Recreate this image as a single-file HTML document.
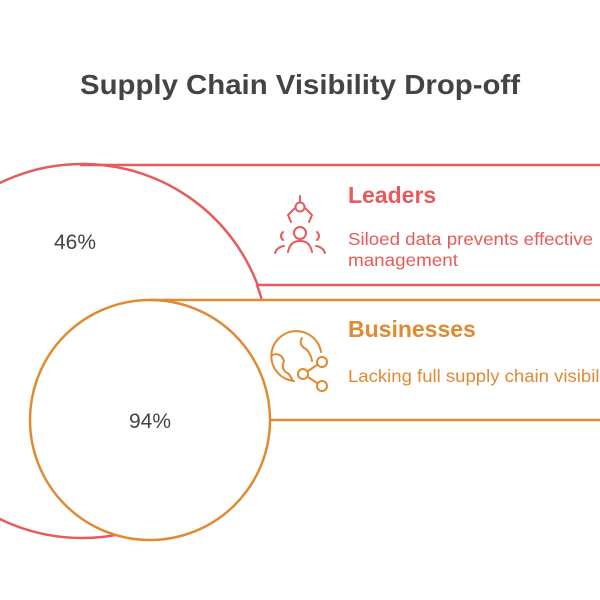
<!DOCTYPE html>
<html><head><style>
body{margin:0;background:#fff;}
svg{display:block;font-family:"Liberation Sans",Arial,sans-serif;}
</style></head><body>
<svg width="600" height="600" viewBox="0 0 600 600">
<rect width="600" height="600" fill="#fff"/>
<text x="300" y="94" text-anchor="middle" font-size="28" font-weight="bold" fill="#444" textLength="440" lengthAdjust="spacingAndGlyphs">Supply Chain Visibility Drop-off</text>
<g fill="none" stroke="#E65B5B" stroke-width="2.5">
<circle cx="82" cy="351" r="187"/>
<rect x="80" y="165" width="540" height="120" fill="#fff" stroke="none"/>
<line x1="80" y1="165" x2="600" y2="165"/>
<line x1="258" y1="285" x2="600" y2="285"/>
<path d="M82 164 A187 187 0 0 1 258 286" />
</g>
<g fill="none" stroke="#E08A33" stroke-width="2.5">
<rect x="150" y="300" width="460" height="120" fill="#fff" stroke="none"/>
<circle cx="150" cy="420" r="120" fill="#fff"/>
<line x1="150" y1="300" x2="600" y2="300"/>
<line x1="270" y1="420" x2="600" y2="420"/>
</g>
<text x="75" y="249" text-anchor="middle" font-size="21" fill="#444">46%</text>
<text x="150" y="428" text-anchor="middle" font-size="21" fill="#444">94%</text>
<text x="348" y="203" font-size="23" font-weight="bold" fill="#E65B5B">Leaders</text>
<text x="348" y="245" font-size="17.5" fill="#E65B5B" textLength="245" lengthAdjust="spacingAndGlyphs">Siloed data prevents effective</text>
<text x="348" y="266" font-size="17.5" fill="#E65B5B" textLength="110" lengthAdjust="spacingAndGlyphs">management</text>
<text x="348" y="337" font-size="23" font-weight="bold" fill="#E08A33">Businesses</text>
<text x="348" y="382" font-size="17.5" fill="#E08A33" textLength="270" lengthAdjust="spacingAndGlyphs">Lacking full supply chain visibility</text>
<!-- leaders icon -->
<g fill="none" stroke="#E65B5B" stroke-width="2" stroke-linecap="round">
<line x1="300" y1="196" x2="300" y2="202"/>
<circle cx="300" cy="207" r="4.5"/>
<path d="M295 208 L288 215 L291 222 M305 208 L312 215 L309 222"/>
<circle cx="300" cy="233" r="6"/>
<path d="M288 252 Q290 241 300 241 Q310 241 312 252"/>
<path d="M283 232 Q279 236 283 240 M317 232 Q321 236 317 240"/>
<path d="M275 253 Q277 247 284 246 M325 253 Q323 247 316 246"/>
</g>
<!-- businesses icon -->
<g fill="none" stroke="#E08A33" stroke-width="2" stroke-linecap="round">
<path d="M321 352 A25 25 0 1 0 294 381"/>
<path d="M272 355 Q281 352 284 361 Q280 370 289 374 L293 381"/>
<path d="M302 338 Q298 345 306 349 Q311 354 312 361"/>
<circle cx="322" cy="362" r="5"/>
<circle cx="303" cy="374" r="5"/>
<circle cx="322" cy="386" r="5"/>
<line x1="308" y1="371" x2="317" y2="365"/>
<line x1="308" y1="377" x2="317" y2="383"/>
</g>
</svg>
</body></html>
